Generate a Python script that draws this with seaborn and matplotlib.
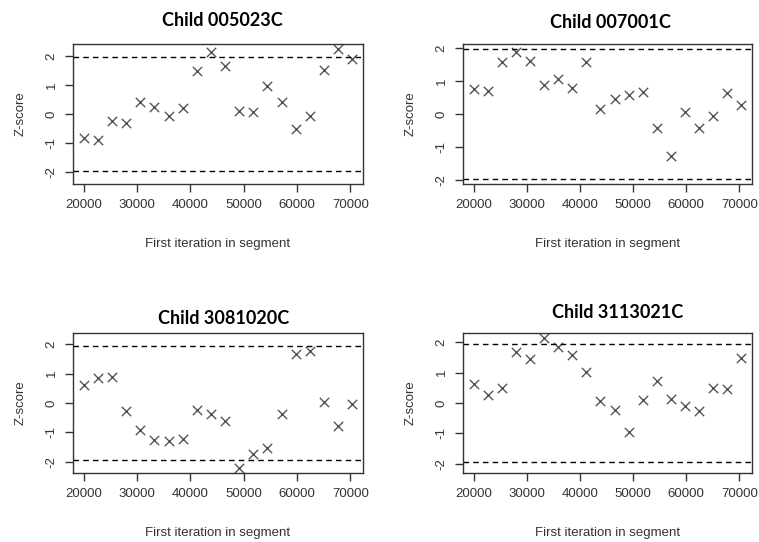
import numpy as np
import pandas as pd
import matplotlib
matplotlib.use("Agg")
import matplotlib.pyplot as plt
import seaborn as sns

# First iteration of each segment (shared by all chains)
first_iteration = [20000, 22650, 25300, 27950, 30600, 33250, 35900, 38550, 41200, 43850,
                   46500, 49150, 51800, 54450, 57100, 59750, 62400, 65050, 67700, 70350]

# Geweke Z-scores per child
z_005023C = [-0.81, -0.88, -0.24, -0.32, 0.43, 0.25, -0.07, 0.22, 1.49, 2.14,
             1.66, 0.12, 0.07, 0.96, 0.43, -0.52, -0.07, 1.51, 2.23, 1.90]
z_007001C = [0.76, 0.71, 1.56, 1.88, 1.59, 0.88, 1.06, 0.78, 1.56, 0.15,
             0.44, 0.56, 0.66, -0.43, -1.26, 0.06, -0.41, -0.06, 0.62, 0.26]
z_3081020C = [0.63, 0.85, 0.90, -0.28, -0.91, -1.26, -1.31, -1.23, -0.23, -0.38,
              -0.61, -2.21, -1.74, -1.55, -0.37, 1.67, 1.78, 0.05, -0.77, -0.02]
z_3113021C = [0.64, 0.26, 0.51, 1.68, 1.44, 2.14, 1.86, 1.57, 1.04, 0.07,
              -0.23, -0.95, 0.10, 0.74, 0.14, -0.10, -0.27, 0.51, 0.47, 1.47]

titles = ["Child 005023C", "Child 007001C", "Child 3081020C", "Child 3113021C"]
series = [z_005023C, z_007001C, z_3081020C, z_3113021C]
critical = 1.96

sns.set_theme(style="ticks")
plt.rcParams["font.family"] = ["Liberation Sans", "DejaVu Sans"]

W, H = 759, 542
fig = plt.figure(figsize=(W / 100, H / 100), dpi=100)

# axes boxes in pixels: left, top, right, bottom
boxes = [(73, 44, 363, 184), (463, 44, 752, 184),
         (73, 333, 363, 473), (463, 333, 752, 473)]
title_pos = [(222, 26), (610, 28), (224, 324), (618, 318)]

text_color = "#333333"
for box, tpos, title, z in zip(boxes, title_pos, titles, series):
    l, t, r, b = box
    ax = fig.add_axes([l / W, 1 - b / H, (r - l) / W, (b - t) / H])
    df = pd.DataFrame({"iteration": first_iteration, "z": z})
    sns.scatterplot(data=df, x="iteration", y="z", marker="x", s=45,
                    color="#555555", linewidth=1.0, ax=ax, legend=False)
    for c in (critical, -critical):
        ax.axhline(c, color="black", linestyle=(0, (4, 3)), linewidth=1.0)
    zmax = max(max(abs(v) for v in z), critical)
    ylim = zmax * 1.08
    ax.set_ylim(-ylim, ylim)
    span = first_iteration[-1] - first_iteration[0]
    ax.set_xlim(first_iteration[0] - 0.04 * span, first_iteration[-1] + 0.04 * span)
    ax.set_xticks([20000, 30000, 40000, 50000, 60000, 70000])
    ax.set_yticks([-2, -1, 0, 1, 2])
    ax.set_yticklabels(["-2", "-1", "0", "1", "2"], rotation=90, va="center")
    ax.tick_params(axis="both", direction="out", length=6, width=1.0,
                   color="#333333", labelsize=9.5, labelcolor=text_color, pad=5)
    ax.set_xlabel("First iteration in segment", fontsize=9.5, color=text_color, labelpad=19)
    ax.set_ylabel("Z-score", fontsize=9.5, color=text_color, labelpad=14)
    for sp in ax.spines.values():
        sp.set_visible(True)
        sp.set_color("#333333")
        sp.set_linewidth(1.0)
    fig.text(tpos[0] / W, 1 - tpos[1] / H, title, ha="center", va="baseline",
             fontsize=13, fontweight="bold", color="black",
             family=["Lato", "DejaVu Sans"])

fig.savefig("out.png", dpi=100, facecolor="white")
